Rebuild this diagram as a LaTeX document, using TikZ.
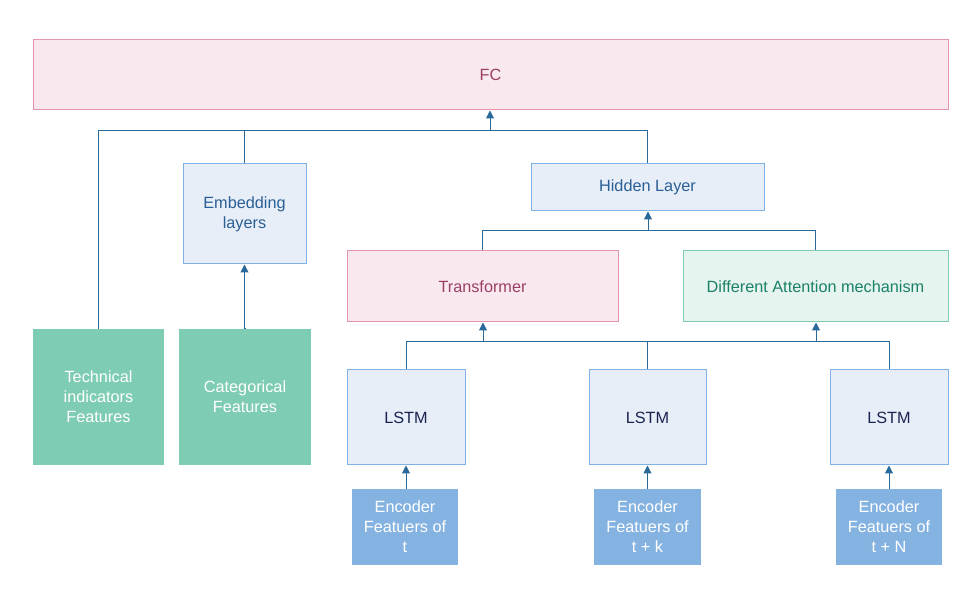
\documentclass[tikz,border=0pt]{standalone}
\usepackage{fontspec}
\setmainfont{Liberation Sans}
\usetikzlibrary{arrows.meta}
\definecolor{ln}{HTML}{2A6A9A}
\definecolor{pkfill}{HTML}{F9E9EF}
\definecolor{pkdraw}{HTML}{E594AE}
\definecolor{pktext}{HTML}{9B3F66}
\definecolor{blfill}{HTML}{E7EEF8}
\definecolor{bldraw}{HTML}{7FB2E5}
\definecolor{bltext}{HTML}{2A5F95}
\definecolor{navy}{HTML}{1A2450}
\definecolor{grfill}{HTML}{E6F4EF}
\definecolor{grdraw}{HTML}{7FCCB4}
\definecolor{grtext}{HTML}{1A8068}
\definecolor{teal}{HTML}{7FCCB4}
\definecolor{encfill}{HTML}{85B3E1}
\begin{document}
\begin{tikzpicture}[x=0.75pt,y=-0.75pt,
  every node/.style={font=\fontsize{12.2pt}{15pt}\selectfont, align=center, inner sep=0pt},
  pinkbox/.style={draw=pkdraw, fill=pkfill, text=pktext, line width=0.75pt},
  bluebox/.style={draw=bldraw, fill=blfill, text=bltext, line width=0.75pt},
  lstmbox/.style={draw=bldraw, fill=blfill, text=navy, line width=0.75pt},
  greenbox/.style={draw=grdraw, fill=grfill, text=grtext, line width=0.75pt},
  featbox/.style={fill=teal, text=white},
  encbox/.style={fill=encfill, text=white},
  conn/.style={draw=ln, line width=0.75pt},
  arr/.style={conn, -{Triangle[length=6pt,width=6pt]}}]
\useasboundingbox (0,0) rectangle (976,609);
% boxes
\node[pinkbox, minimum width=915*0.75pt, minimum height=70*0.75pt] (fc) at (490.5,75) {FC};
\node[bluebox, minimum width=123*0.75pt, minimum height=100*0.75pt] (emb) at (244.5,214) {Embedding\\layers};
\node[bluebox, minimum width=233*0.75pt, minimum height=47*0.75pt] (hid) at (647.5,187.5) {Hidden Layer};
\node[pinkbox, minimum width=271*0.75pt, minimum height=71*0.75pt] (tr) at (482.5,286.5) {Transformer};
\node[greenbox, minimum width=265*0.75pt, minimum height=71*0.75pt] (att) at (815.5,286.5) {Different Attention mechanism};
\node[featbox, minimum width=131*0.75pt, minimum height=136*0.75pt] (tech) at (98.5,397) {Technical\\indicators\\Features};
\node[featbox, minimum width=132*0.75pt, minimum height=136*0.75pt] (cat) at (245,397) {Categorical\\Features};
\node[lstmbox, minimum width=118*0.75pt, minimum height=95*0.75pt] (l1) at (406,417.5) {LSTM};
\node[lstmbox, minimum width=117*0.75pt, minimum height=95*0.75pt] (l2) at (647.5,417.5) {LSTM};
\node[lstmbox, minimum width=118*0.75pt, minimum height=95*0.75pt] (l3) at (889,417.5) {LSTM};
\node[encbox, minimum width=106*0.75pt, minimum height=76*0.75pt] (e1) at (405,527) {Encoder\\Featuers of\\t};
\node[encbox, minimum width=107*0.75pt, minimum height=76*0.75pt] (e2) at (647.5,527) {Encoder\\Featuers of\\t + k};
\node[encbox, minimum width=106*0.75pt, minimum height=76*0.75pt] (e3) at (889,527) {Encoder\\Featuers of\\t + N};
% junction coordinates
\coordinate (j1) at (490,131);
\coordinate (j2) at (648,231);
\coordinate (j3) at (483,342);
\coordinate (j4) at (816,342);
% top bus
\draw[conn] (tech.north) -- (tech.north |- j1) -- (hid.north |- j1) -- (hid.north);
\draw[conn] (emb.north) -- (emb.north |- j1);
\draw[arr] (j1) -- (j1 |- fc.south);
\draw[arr] (cat.north) -- (cat.north -| emb.south) -- (emb.south);
% hidden bus
\draw[conn] (tr.north) -- (tr.north |- j2) -- (att.north |- j2) -- (att.north);
\draw[arr] (j2) -- (j2 |- hid.south);
% lstm bus
\draw[conn] (l1.north) -- (l1.north |- j3) -- (l3.north |- j3) -- (l3.north);
\draw[conn] (l2.north) -- (l2.north |- j3);
\draw[arr] (j3) -- (j3 |- tr.south);
\draw[arr] (j4) -- (j4 |- att.south);
% encoder arrows
\draw[arr] (e1.north -| l1.south) -- (l1.south);
\draw[arr] (e2.north) -- (l2.south);
\draw[arr] (e3.north) -- (l3.south);
\end{tikzpicture}
\end{document}
